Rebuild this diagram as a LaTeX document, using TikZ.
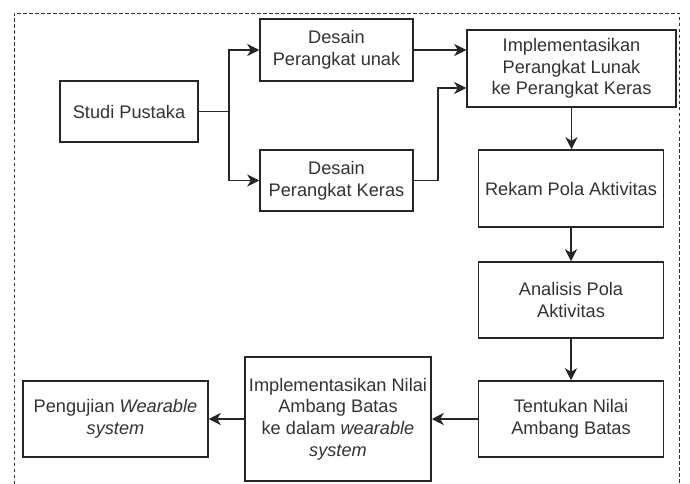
\documentclass[tikz,border=0pt]{standalone}
\usepackage{fontspec}
\setmainfont{Liberation Sans}
\usetikzlibrary{arrows.meta}
\begin{document}
\begin{tikzpicture}[x=1pt,y=-1pt,
  box/.style={draw=black!85, line width=1.5pt, fill=white, align=center,
    inner sep=0pt, text=black!80,
    font=\fontsize{18.2}{21.7}\selectfont},
  conn/.style={draw=black!85, line width=1.5pt,
    -{Stealth[length=12pt,width=12pt,inset=3.5pt]}},
  frame/.style={draw=black!80, line width=0.9pt, dash pattern=on 3.5pt off 2.5pt}]
  % canvas
  \useasboundingbox (0,0) rectangle (690,484);
  \fill[white] (0,0) rectangle (690,484);
  % dashed outline, open at the bottom
  \draw[frame] (14,490) -- (14,13) -- (679,13) -- (679,490);

  % process boxes
  \node[box, minimum width=138pt, minimum height=61pt] (studi) at (129,111.5) {Studi Pustaka};
  \node[box, minimum width=153pt, minimum height=62pt] (dpl) at (336.5,50) {Desain\\Perangkat unak};
  \node[box, minimum width=153pt, minimum height=61pt] (dpk) at (336.5,180.5) {Desain\\Perangkat Keras};
  \node[box, minimum width=209pt, minimum height=77pt] (impl) at (571.5,68.5) {Implementasikan\\Perangkat Lunak\\ke Perangkat Keras};
  \node[box, minimum width=185pt, minimum height=77pt] (rekam) at (571,188.5) {Rekam Pola Aktivitas};
  \node[box, minimum width=185pt, minimum height=76pt] (analisis) at (571,300) {Analisis Pola\\Aktivitas};
  \node[box, minimum width=185pt, minimum height=76pt] (tentukan) at (571,419) {Tentukan Nilai\\Ambang Batas};
  \node[box, minimum width=186pt, minimum height=124pt] (implnilai) at (338,419) {Implementasikan Nilai\\Ambang Batas\\ke dalam \textit{wearable}\\\textit{system}};
  \node[box, minimum width=185pt, minimum height=76pt] (uji) at (115.5,419) {Pengujian \textit{Wearable}\\\textit{system}};

  % routing points
  \coordinate (split) at (229,111.5);
  \coordinate (merge) at (438,180.5);
  \coordinate (inlow) at (impl.west |- 0,88);

  % connectors
  \draw[conn] (studi.east) -- (split) |- (dpl.west);
  \draw[conn] (studi.east) -- (split) |- (dpk.west);
  \draw[conn] (dpl.east) -- (dpl.east -| impl.west);
  \draw[conn] (dpk.east) -- (merge) |- (inlow);
  \draw[conn] (impl.south) -- (impl.south |- rekam.north);
  \draw[conn] (rekam) -- (analisis);
  \draw[conn] (analisis) -- (tentukan);
  \draw[conn] (tentukan) -- (implnilai);
  \draw[conn] (implnilai) -- (uji);
\end{tikzpicture}
\end{document}
